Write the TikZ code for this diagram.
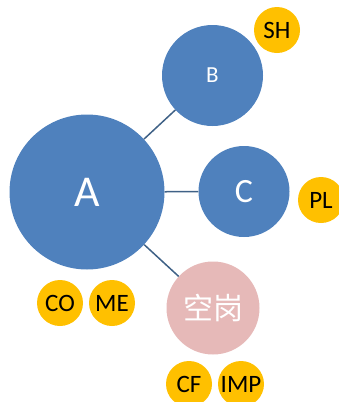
\documentclass[tikz,border=0pt]{standalone}
\usepackage{fontspec}
\setmainfont{Carlito}
\newfontfamily\cjk{Noto Sans CJK SC}
\definecolor{officeblue}{HTML}{4F81BD}
\definecolor{officegold}{HTML}{FFC000}
\definecolor{rosepink}{HTML}{E6B9B8}
\definecolor{linkgray}{HTML}{3F6186}

\begin{document}
\begin{tikzpicture}[x=1pt,y=-1pt]
\tikzstyle{bubble}=[circle,inner sep=0pt,text=white]
\tikzstyle{tag}=[circle,fill=officegold,minimum size=46pt,inner sep=0pt,font=\fontsize{25}{27}\selectfont]
\tikzstyle{link}=[draw=linkgray,line width=1.5pt]
\useasboundingbox (0,0) rectangle (338,402);
% main circles
\node[bubble,fill=officeblue,minimum size=155pt,font=\fontsize{44}{46}\selectfont] (A) at (87,192) {A};
\node[bubble,fill=officeblue,minimum size=101pt,font=\fontsize{23}{25}\selectfont] (B) at (212.5,75.5) {B};
\node[bubble,fill=officeblue,minimum size=91pt,font=\fontsize{34}{36}\selectfont] (C) at (244,191.5) {C};
\node[bubble,fill=rosepink,minimum size=93pt,font=\cjk\fontsize{30}{32}\selectfont] (kg) at (213,308) {空岗};
% tags
\node[tag] (SH) at (277,30) {SH};
\node[tag] (PL) at (321,200) {PL};
\node[tag] (CO) at (60,303) {CO};
\node[tag] (ME) at (112,303) {ME};
\node[tag] (CF) at (189,384) {CF};
\node[tag] (IMP) at (241,384) {IMP};
% links
\draw[link] (A) -- (B);
\draw[link] (A) -- (C);
\draw[link] (A) -- (kg);
\end{tikzpicture}
\end{document}
